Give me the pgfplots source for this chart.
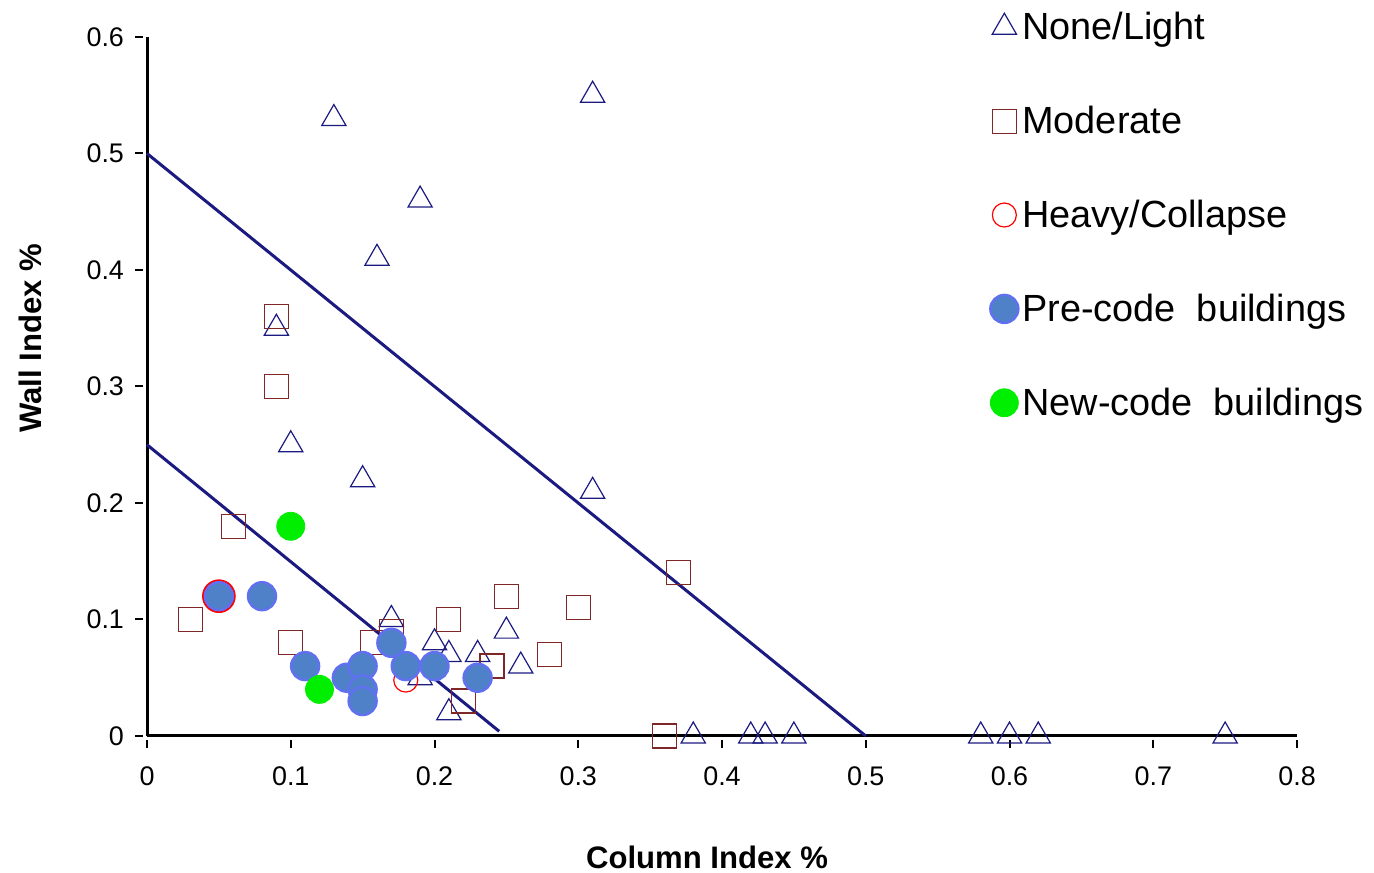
\documentclass[border=0pt]{standalone}
\usepackage{pgfplots}
\pgfplotsset{compat=1.18}
\usepackage{fontspec}
\setmainfont{Liberation Sans}
\definecolor{navy}{HTML}{1A1A80}
\definecolor{brownred}{HTML}{7F2626}
\definecolor{preblue}{HTML}{4F81C8}
\definecolor{preedge}{HTML}{6070F0}
\definecolor{newgreen}{HTML}{00EE00}
\begin{document}
\begin{tikzpicture}
\begin{axis}[
  scale only axis, width=575bp, height=349.5bp,
  xmin=0, xmax=0.8, ymin=0, ymax=0.6,
  axis x line=bottom, axis y line=left,
  axis line style={line width=1.5bp,-},
  xtick={0,0.1,...,0.8}, ytick={0,0.1,...,0.6},
  tick style={black,line width=1bp},
  major tick length=4bp,
  x tick style={yshift=-2bp}, y tick style={xshift=-2bp},
  tick align=outside,
  /pgf/number format/assume math mode=true,
  /pgf/number format/fixed,
  ticklabel style={font=\fontsize{13.5}{16}\selectfont},
  xticklabel style={yshift=-8bp},
  yticklabel style={xshift=-4bp},
  xlabel={\bfseries Column Index \%},
  ylabel={\bfseries Wall Index \%},
  label style={font=\fontsize{15.6}{18}\selectfont},
  xlabel style={at={(0.5,0)},anchor=center,yshift=-60.5bp,xshift=-7.5bp},
  ylabel style={at={(0,0.5)},anchor=center,yshift=58.5bp,xshift=24bp},
  clip=false,
  legend style={at={(0.733,1.042)},anchor=north west,draw=none,fill=none,
    font=\fontsize{19}{22}\selectfont,row sep=27.75bp,inner sep=0pt,
    /tikz/every even column/.append style={column sep=2bp}},
  legend cell align=left,
  legend image code/.code={\draw[#1] plot coordinates {(0bp,0bp)};},
]
\addplot[only marks, mark=triangle, mark size=7bp, navy, mark options={line width=0.6bp}] coordinates {
(0.13,0.53) (0.31,0.55) (0.19,0.46) (0.16,0.41) (0.09,0.35) (0.10,0.25)
(0.15,0.22) (0.31,0.21) (0.17,0.10) (0.20,0.08) (0.21,0.07) (0.23,0.07)
(0.25,0.09) (0.26,0.06) (0.19,0.05) (0.21,0.02) (0.38,0) (0.42,0)
(0.43,0) (0.45,0) (0.58,0) (0.60,0) (0.62,0) (0.75,0)};
\addlegendentry{None/Light}
\addplot[only marks, mark=square, mark size=6bp, brownred, mark options={line width=0.6bp}] coordinates {
(0.09,0.36) (0.09,0.30) (0.06,0.18) (0.03,0.10) (0.10,0.08) (0.157,0.08)
(0.17,0.09) (0.21,0.10) (0.25,0.12) (0.24,0.06) (0.28,0.07) (0.30,0.11)
(0.37,0.14) (0.22,0.03) (0.36,0)};
\addlegendentry{Moderate}
\addplot[only marks, mark=o, mark size=6bp, red, mark options={line width=0.6bp}] coordinates {
(0.18,0.048)};
\addlegendentry{Heavy/Collapse}
\addplot[only marks, mark=*, mark size=8.2bp, red, forget plot] coordinates {(0.05,0.12)};
\addplot[only marks, mark=*, mark size=7bp, mark options={fill=preblue,draw=preedge,line width=1.2bp}] coordinates {
(0.05,0.12) (0.08,0.12) (0.11,0.06) (0.139,0.05) (0.15,0.06) (0.15,0.04)
(0.15,0.03) (0.17,0.08) (0.18,0.06) (0.20,0.06) (0.23,0.05)};
\addlegendentry{Pre-code\ \ buildings}
\addplot[only marks, mark=*, mark size=7bp, newgreen] coordinates {
(0.10,0.18) (0.12,0.04)};
\addlegendentry{New-code\ \ buildings}
\addplot[navy, line width=1.5bp, forget plot] coordinates {(0,0.5) (0.5,0)};
\addplot[navy, line width=1.5bp, forget plot] coordinates {(0,0.25) (0.245,0.004)};
\coordinate (bl) at (rel axis cs:0,0);
\coordinate (tr) at (rel axis cs:1,1);
\end{axis}
\pgfresetboundingbox
\path ([shift={(-73.5bp,-68.5bp)}]bl) rectangle ([shift={(38.5bp,18.5bp)}]tr);
\end{tikzpicture}
\end{document}
